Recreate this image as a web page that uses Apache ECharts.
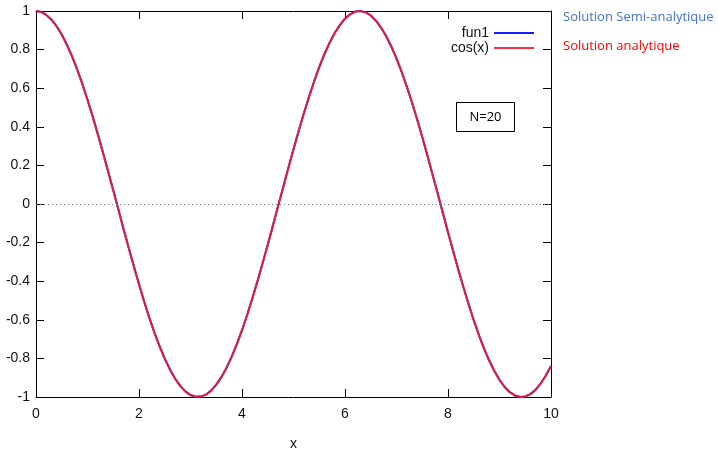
<!DOCTYPE html>
<html>
<head>
<meta charset="utf-8">
<script src="https://cdn.jsdelivr.net/npm/echarts@6/dist/echarts.min.js"></script>
<style>html,body{margin:0;padding:0;background:#fff}#c{width:718px;height:458px}</style>
</head>
<body>
<div id="c"></div>
<script>
// x samples
const xValues = [0,0.1,0.2,0.3,0.4,0.5,0.6,0.7,0.8,0.9,1.0,1.1,1.2,1.3,1.4,1.5,1.6,1.7,1.8,1.9,2.0,2.1,2.2,2.3,2.4,2.5,2.6,2.7,2.8,2.9,3.0,3.1,3.2,3.3,3.4,3.5,3.6,3.7,3.8,3.9,4.0,4.1,4.2,4.3,4.4,4.5,4.6,4.7,4.8,4.9,5.0,5.1,5.2,5.3,5.4,5.5,5.6,5.7,5.8,5.9,6.0,6.1,6.2,6.3,6.4,6.5,6.6,6.7,6.8,6.9,7.0,7.1,7.2,7.3,7.4,7.5,7.6,7.7,7.8,7.9,8.0,8.1,8.2,8.3,8.4,8.5,8.6,8.7,8.8,8.9,9.0,9.1,9.2,9.3,9.4,9.5,9.6,9.7,9.8,9.9,10.0];
const fun1Values = [1.000,0.995,0.980,0.955,0.921,0.878,0.825,0.765,0.697,0.622,0.540,0.454,0.362,0.267,0.170,0.071,-0.029,-0.129,-0.227,-0.323,-0.416,-0.505,-0.589,-0.666,-0.737,-0.801,-0.857,-0.904,-0.942,-0.971,-0.990,-0.999,-0.998,-0.988,-0.967,-0.936,-0.897,-0.848,-0.791,-0.726,-0.654,-0.575,-0.490,-0.401,-0.307,-0.211,-0.112,-0.012,0.087,0.187,0.284,0.378,0.469,0.554,0.635,0.709,0.776,0.835,0.886,0.927,0.960,0.983,0.997,1.000,0.993,0.977,0.950,0.914,0.869,0.816,0.754,0.685,0.608,0.527,0.439,0.347,0.251,0.153,0.054,-0.046,-0.146,-0.244,-0.339,-0.431,-0.519,-0.602,-0.679,-0.749,-0.811,-0.865,-0.911,-0.948,-0.975,-0.992,-1.000,-0.997,-0.985,-0.963,-0.930,-0.889,-0.839];
const cosValues = [1.000,0.995,0.980,0.955,0.921,0.878,0.825,0.765,0.697,0.622,0.540,0.454,0.362,0.267,0.170,0.071,-0.029,-0.129,-0.227,-0.323,-0.416,-0.505,-0.589,-0.666,-0.737,-0.801,-0.857,-0.904,-0.942,-0.971,-0.990,-0.999,-0.998,-0.988,-0.967,-0.936,-0.897,-0.848,-0.791,-0.726,-0.654,-0.575,-0.490,-0.401,-0.307,-0.211,-0.112,-0.012,0.087,0.187,0.284,0.378,0.469,0.554,0.635,0.709,0.776,0.835,0.886,0.927,0.960,0.983,0.997,1.000,0.993,0.977,0.950,0.914,0.869,0.816,0.754,0.685,0.608,0.527,0.439,0.347,0.251,0.153,0.054,-0.046,-0.146,-0.244,-0.339,-0.431,-0.519,-0.602,-0.679,-0.749,-0.811,-0.865,-0.911,-0.948,-0.975,-0.992,-1.000,-0.997,-0.985,-0.963,-0.930,-0.889,-0.839];
const seriesNames = ['fun1', 'cos(x)'];
const xTicks = {min: 0, max: 10, interval: 2};
const yTicks = {min: -1, max: 1, interval: 0.2};

const pair = (xs, ys) => xs.map((x, i) => [x, ys[i]]);
const fontFam = '"Liberation Sans", Arial, sans-serif';
const mkAxis = (extra) => Object.assign({
  type: 'value',
  axisLine: {show: true, onZero: false, lineStyle: {color: '#000', width: 1}},
  axisTick: {show: true, inside: true, length: 8, lineStyle: {color: '#000', width: 1}},
  splitLine: {show: false}
}, extra);

const chart = echarts.init(document.getElementById('c'), null, {renderer: 'canvas'});
chart.setOption({
  animation: false,
  backgroundColor: '#fff',
  grid: {left: 36, right: 167, top: 11, bottom: 61, containLabel: false},
  xAxis: [
    mkAxis({position: 'bottom', min: xTicks.min, max: xTicks.max, interval: xTicks.interval,
      name: 'x', nameLocation: 'middle', nameGap: 40,
      nameTextStyle: {fontFamily: fontFam, fontSize: 14, color: '#111'},
      axisLabel: {fontFamily: fontFam, fontSize: 14, color: '#111', margin: 10}}),
    mkAxis({position: 'top', min: xTicks.min, max: xTicks.max, interval: xTicks.interval,
      axisLabel: {show: false}})
  ],
  yAxis: [
    mkAxis({position: 'left', min: yTicks.min, max: yTicks.max, interval: yTicks.interval,
      axisLabel: {fontFamily: fontFam, fontSize: 14, color: '#111', margin: 6,
        formatter: v => String(Math.round(v * 10) / 10)}}),
    mkAxis({position: 'right', min: yTicks.min, max: yTicks.max, interval: yTicks.interval,
      axisLabel: {show: false}})
  ],
  legend: {
    orient: 'vertical', right: 179, top: 21, align: 'right',
    itemWidth: 40, itemHeight: 2, itemGap: 1,
    icon: 'rect',
    textStyle: {fontFamily: fontFam, fontSize: 14, color: '#111'},
    data: [
      {name: seriesNames[0], itemStyle: {color: '#1a1aff', opacity: 1}},
      {name: seriesNames[1], itemStyle: {color: '#ff3040', opacity: 1}}
    ]
  },
  series: [
    {name: seriesNames[0], type: 'line', data: pair(xValues, fun1Values),
      symbol: 'none', lineStyle: {color: '#2020a8', width: 2}, itemStyle: {color: '#1a1aff'},
      markLine: {silent: true, symbol: 'none', label: {show: false},
        lineStyle: {color: '#777', type: [1, 3], width: 1}, data: [{yAxis: 0}]}},
    {name: seriesNames[1], type: 'line', data: pair(xValues, cosValues),
      symbol: 'none', lineStyle: {color: '#ff1a40', width: 2, opacity: 0.85}, itemStyle: {color: '#ff3040'}}
  ],
  graphic: [
    {type: 'text', left: 563, top: 11, style: {text: 'Solution Semi-analytique', fill: '#4472c4',
      font: '13px "Open Sans", "Liberation Sans", sans-serif'}},
    {type: 'text', left: 563, top: 40, style: {text: 'Solution analytique', fill: '#ff0000',
      font: '13px "Open Sans", "Liberation Sans", sans-serif'}},
    {type: 'rect', shape: {x: 456.5, y: 102.5, width: 58, height: 29}, style: {fill: '#fff', stroke: '#000', lineWidth: 1}},
    {type: 'text', x: 485.5, y: 117, style: {text: 'N=20', fill: '#000', align: 'center', verticalAlign: 'middle',
      font: '13px "Open Sans", "Liberation Sans", sans-serif'}}
  ]
});
</script>
</body>
</html>
